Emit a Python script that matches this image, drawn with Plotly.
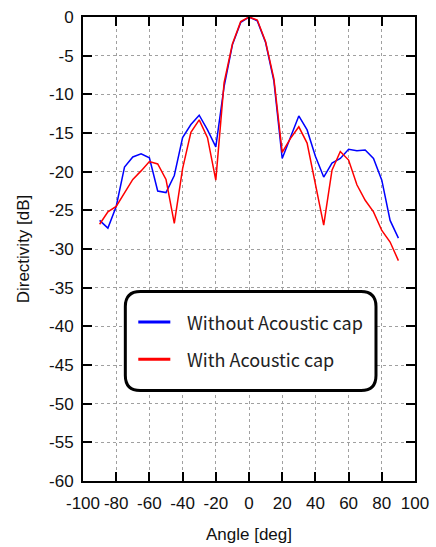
import plotly.graph_objects as go

angles = list(range(-90, 95, 5))
without_cap = [-26.3, -27.3, -24.5, -19.4, -18.1, -17.7, -18.2, -22.5, -22.7, -20.5,
               -15.6, -13.9, -12.7, -14.6, -16.8, -9.0, -3.6, -0.7, 0.0, -0.5,
               -3.3, -8.3, -18.3, -15.5, -12.8, -14.6, -18.0, -20.7, -18.9, -18.3,
               -17.1, -17.3, -17.2, -18.3, -21.1, -26.3, -28.6]
with_cap = [-26.8, -25.2, -24.5, -22.8, -21.0, -19.9, -18.7, -19.0, -21.0, -26.7,
            -19.6, -14.9, -13.3, -15.6, -21.1, -8.5, -3.5, -0.6, 0.0, -0.4,
            -3.2, -8.0, -17.5, -15.7, -14.2, -16.3, -21.5, -26.9, -19.8, -17.4,
            -18.5, -21.7, -23.7, -25.2, -27.6, -29.1, -31.5]
series_names = ["Without Acoustic cap", "With Acoustic cap"]
series_colors = ["#0000ff", "#ff0000"]
x_ticks = list(range(-100, 101, 20))
y_ticks = list(range(-60, 1, 5))

fig = go.Figure()
for name, vals, col in zip(series_names, [without_cap, with_cap], series_colors):
    fig.add_trace(go.Scatter(x=angles, y=vals, mode="lines", name=name,
                             line=dict(color=col, width=1.5), showlegend=False))

# rounded legend box (data coords)
x0, x1, y0, y1 = -74.5, 76.5, -35.5, -48.3
rx, ry = 9.0, 1.95
path = (f"M {x0+rx},{y0} L {x1-rx},{y0} Q {x1},{y0} {x1},{y0-ry} "
        f"L {x1},{y1+ry} Q {x1},{y1} {x1-rx},{y1} L {x0+rx},{y1} "
        f"Q {x0},{y1} {x0},{y1+ry} L {x0},{y0-ry} Q {x0},{y0} {x0+rx},{y0} Z")
fig.add_shape(type="path", path=path, xref="x", yref="y",
              line=dict(color="black", width=3), fillcolor="white", layer="above")

# manual legend entries
legend_y = [-39.45, -44.25]
for name, col, ly in zip(series_names, series_colors, legend_y):
    fig.add_shape(type="line", xref="x", yref="y", x0=-66.7, x1=-47.4, y0=ly, y1=ly,
                  line=dict(color=col, width=3), layer="above")
    fig.add_annotation(x=-38.3, y=ly, xref="x", yref="y", text=name, showarrow=False,
                       xanchor="left", yanchor="middle",
                       font=dict(family="Noto Sans CJK JP", size=18, color="#222"))

axis_common = dict(showline=True, linecolor="black", linewidth=2, mirror="ticks",
                   ticks="inside", ticklen=9, tickwidth=2, tickcolor="black",
                   showgrid=True, gridcolor="#a0a0a0", griddash="dot", gridwidth=1,
                   zeroline=False, automargin=False,
                   tickfont=dict(family="Liberation Sans", size=17, color="#111"),
                   title_font=dict(family="Liberation Sans", size=17, color="#111"))

fig.update_xaxes(range=[-100, 100], tickvals=x_ticks, ticktext=[str(v) for v in x_ticks],
                 title_text="Angle [deg]", title_standoff=16, ticklabelstandoff=6, **axis_common)
fig.update_yaxes(range=[-60, 0], tickvals=y_ticks, ticktext=[str(v) for v in y_ticks],
                 title_text="Directivity [dB]", title_standoff=15, ticklabelstandoff=4, **axis_common)

fig.update_layout(
    width=436, height=547,
    margin=dict(l=83, r=21, t=17, b=66),
    plot_bgcolor="white", paper_bgcolor="white",
    showlegend=False,
)

fig.write_html("out.html")
